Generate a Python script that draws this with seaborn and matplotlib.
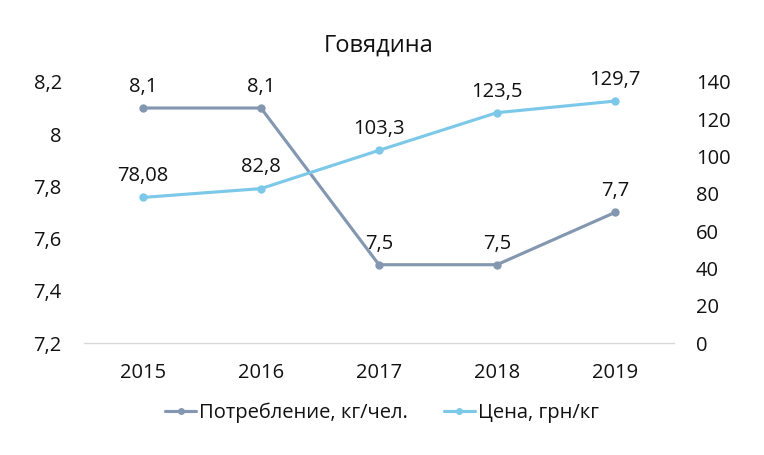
import pandas as pd
import matplotlib
matplotlib.use("Agg")
import matplotlib.pyplot as plt
import seaborn as sns
from matplotlib.lines import Line2D

sns.set_style("white")
plt.rcParams['font.family'] = ['Open Sans', 'DejaVu Sans']

years = ["2015", "2016", "2017", "2018", "2019"]
consumption = [8.1, 8.1, 7.5, 7.5, 7.7]
price = [78.08, 82.8, 103.3, 123.5, 129.7]
consumption_labels = ["8,1", "8,1", "7,5", "7,5", "7,7"]
price_labels = ["78,08", "82,8", "103,3", "123,5", "129,7"]
left_ticks = [7.2, 7.4, 7.6, 7.8, 8.0, 8.2]
left_tick_labels = ["7,2", "7,4", "7,6", "7,8", "8", "8,2"]
right_ticks = [0, 20, 40, 60, 80, 100, 120, 140]

c_cons = "#8497B0"
c_price = "#7CC8E8"
txt = "#111111"

df = pd.DataFrame({"year": years, "consumption": consumption, "price": price})
df["x"] = range(len(years))

fig = plt.figure(figsize=(7.64, 4.55), dpi=100)
ax = fig.add_axes([0.110, 0.246, 0.772, 0.574])
ax2 = ax.twinx()

sns.lineplot(data=df, x="x", y="consumption", ax=ax, color=c_cons,
             linewidth=2.25, marker="o", markersize=6, markeredgewidth=0)
sns.lineplot(data=df, x="x", y="price", ax=ax2, color=c_price,
             linewidth=2.25, marker="o", markersize=6, markeredgewidth=0)

# подписи значений над точками
for xi, yi, lab in zip(df["x"], consumption, consumption_labels):
    ax.annotate(lab, (xi, yi), xytext=(0, 8), textcoords="offset points",
                ha="center", va="bottom", fontsize=14.5, color=txt)
for xi, yi, lab in zip(df["x"], price, price_labels):
    ax2.annotate(lab, (xi, yi), xytext=(0, 8), textcoords="offset points",
                 ha="center", va="bottom", fontsize=14.5, color=txt)

ax.set_xlim(-0.5, len(years) - 0.5)
ax.set_ylim(7.2, 8.2)
ax2.set_ylim(0, 140)
ax.set_xticks(df["x"])
ax.set_xticklabels(years)
ax.set_yticks(left_ticks)
ax.set_yticklabels(left_tick_labels)
ax2.set_yticks(right_ticks)
ax.set_xlabel("")
ax.set_ylabel("")
ax2.set_ylabel("")

for a in (ax, ax2):
    for s in a.spines.values():
        s.set_visible(False)
    a.tick_params(length=0, labelsize=14.5, labelcolor=txt)
ax.spines["bottom"].set_visible(True)
ax.spines["bottom"].set_color("#D9D9D9")
ax.spines["bottom"].set_linewidth(1.0)
ax.tick_params(axis="y", pad=16)
ax.tick_params(axis="x", pad=14)
ax2.tick_params(axis="y", pad=16)

ax.set_title("Говядина", fontsize=17, color=txt, pad=22)

handles = [
    Line2D([0], [0], color=c_cons, linewidth=2.25, marker="o", markersize=5, markeredgewidth=0),
    Line2D([0], [0], color=c_price, linewidth=2.25, marker="o", markersize=5, markeredgewidth=0),
]
leg = fig.legend(handles, ["Потребление, кг/чел.", "Цена, грн/кг"], loc="center",
                 bbox_to_anchor=(0.5, 0.092), ncol=2, frameon=False, fontsize=14.5,
                 handlelength=1.55, handletextpad=0.15, columnspacing=1.75)
for t in leg.get_texts():
    t.set_color(txt)

fig.savefig("out.png", dpi=100)
